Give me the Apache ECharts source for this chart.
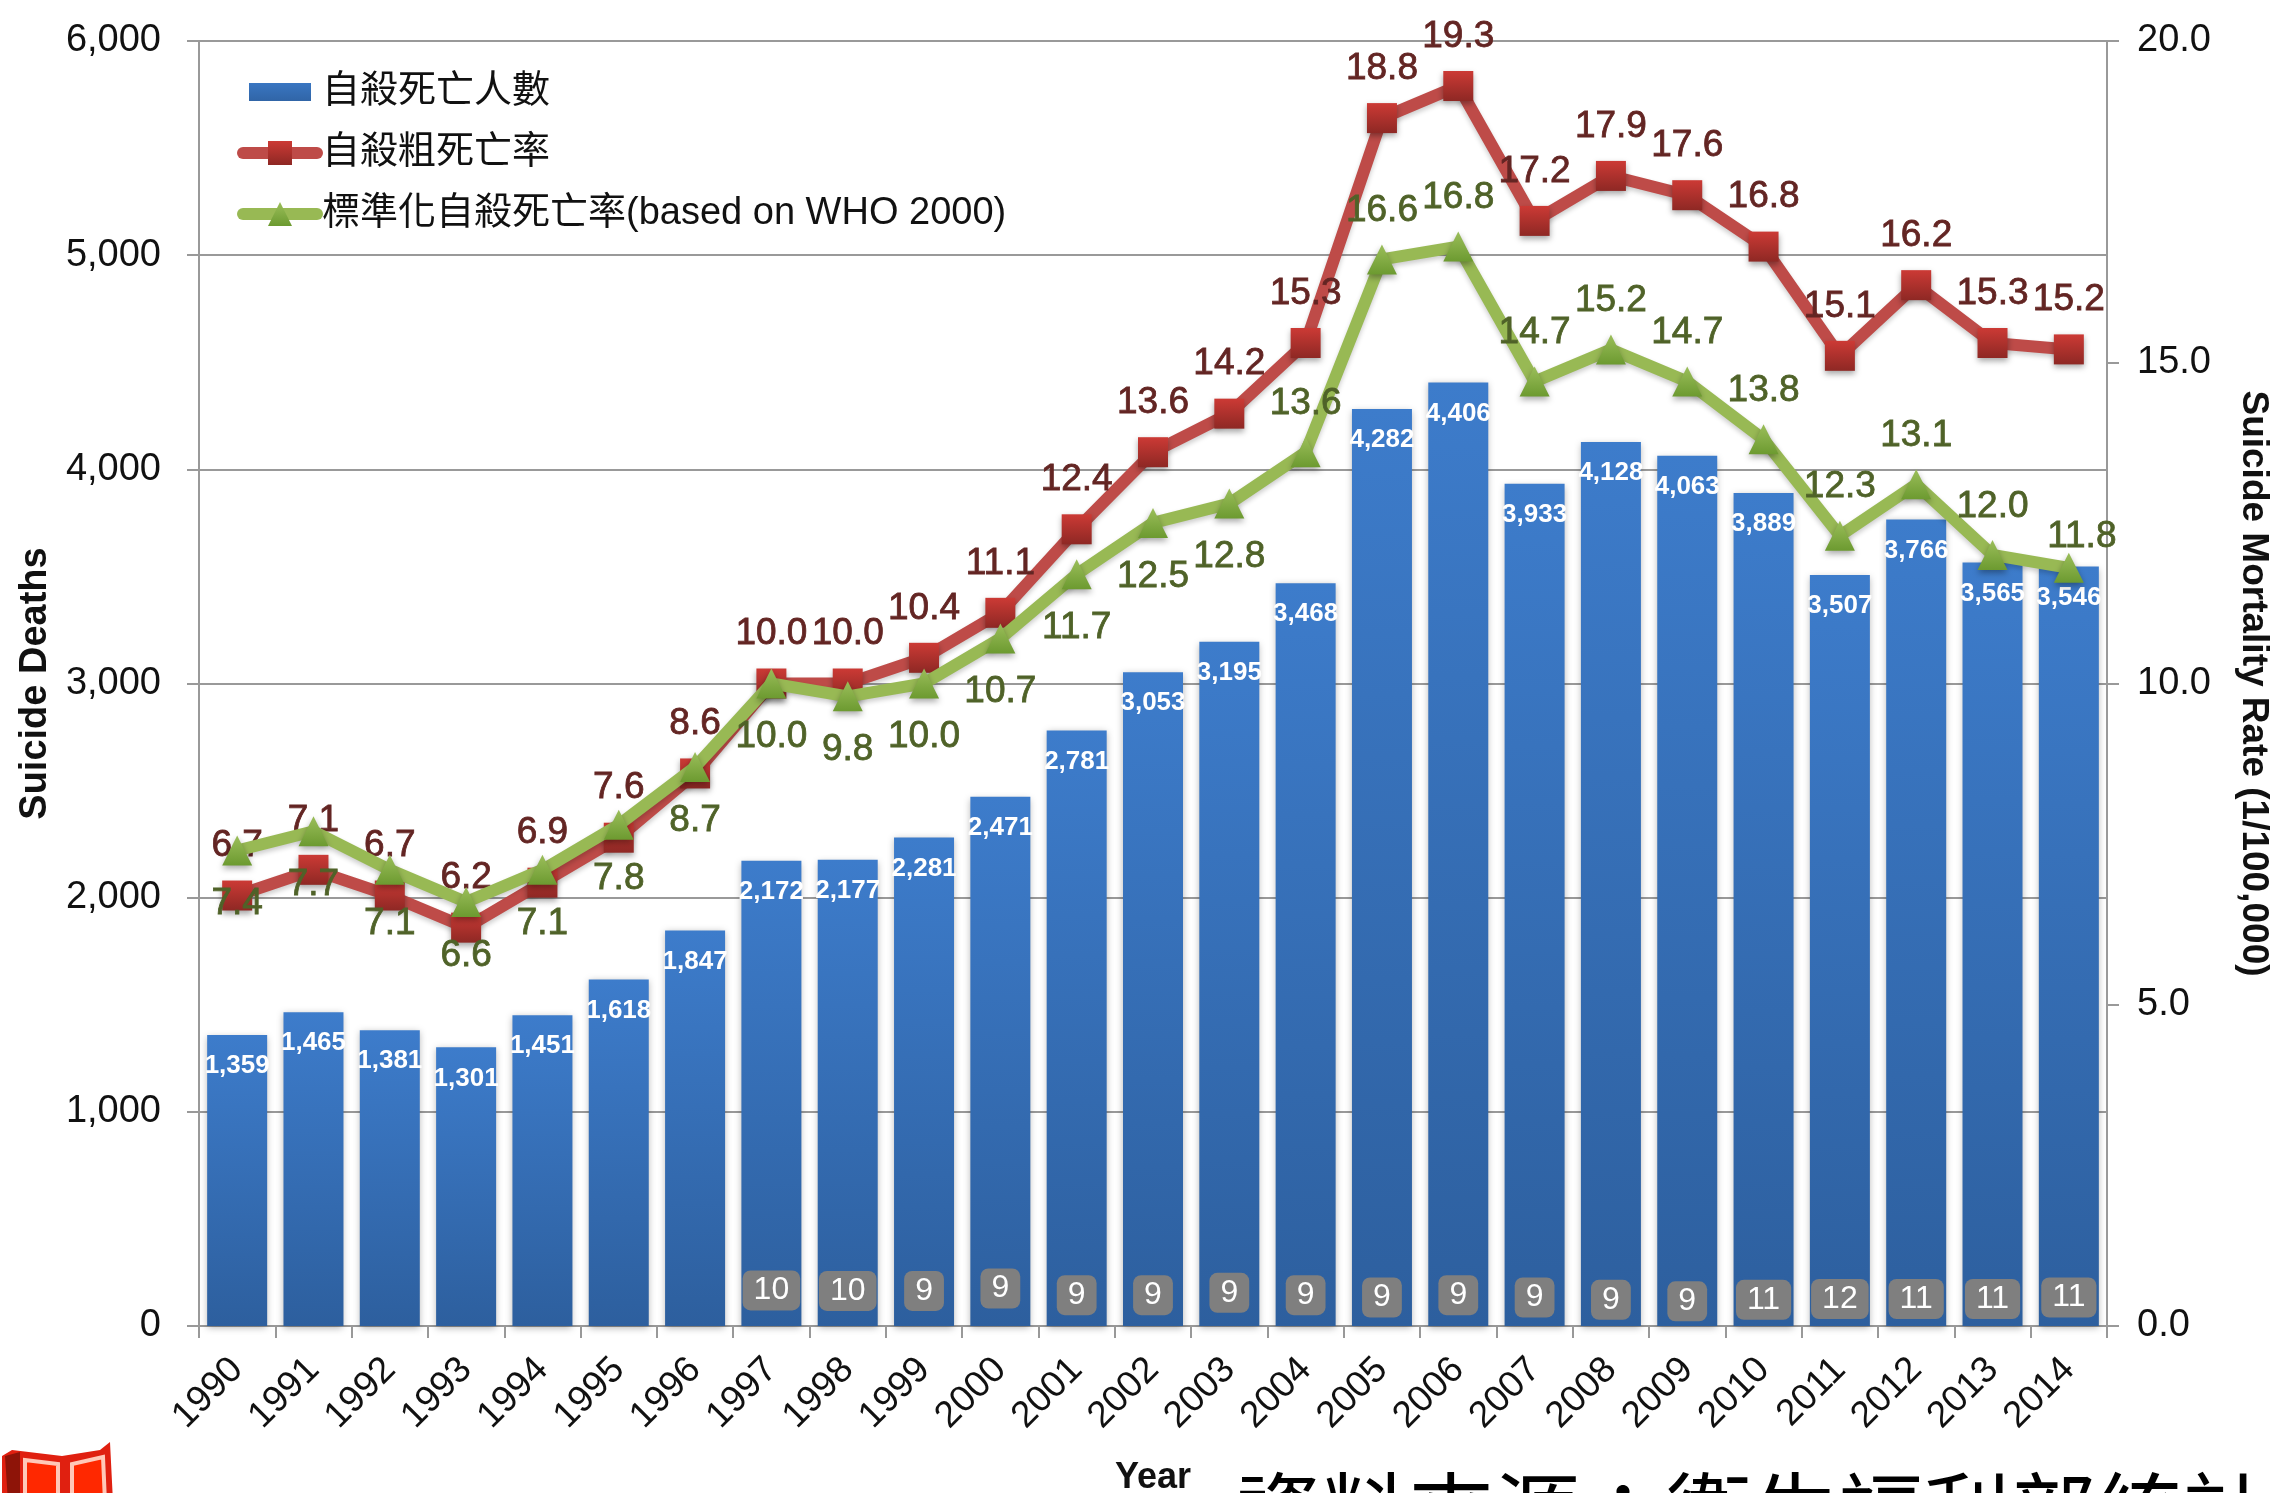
<!DOCTYPE html>
<html>
<head>
<meta charset="utf-8">
<script src="https://cdn.jsdelivr.net/npm/echarts@6/dist/echarts.min.js"></script>
<style>html,body{margin:0;padding:0;background:#fff;overflow:hidden}#c{width:2278px;height:1493px}</style>
</head>
<body>
<div id="c"></div>
<script>
const years = ['1990','1991','1992','1993','1994','1995','1996','1997','1998','1999','2000','2001','2002','2003','2004','2005','2006','2007','2008','2009','2010','2011','2012','2013','2014'];
const deaths = [1359,1465,1381,1301,1451,1618,1847,2172,2177,2281,2471,2781,3053,3195,3468,4282,4406,3933,4128,4063,3889,3507,3766,3565,3546];
const crudeRate = [6.7,7.1,6.7,6.2,6.9,7.6,8.6,10.0,10.0,10.4,11.1,12.4,13.6,14.2,15.3,18.8,19.3,17.2,17.9,17.6,16.8,15.1,16.2,15.3,15.2];
const stdRate = [7.4,7.7,7.1,6.6,7.1,7.8,8.7,10.0,9.8,10.0,10.7,11.7,12.5,12.8,13.6,16.6,16.8,14.7,15.2,14.7,13.8,12.3,13.1,12.0,11.8];
const rank = [null,null,null,null,null,null,null,10,10,9,9,9,9,9,9,9,9,9,9,9,11,12,11,11,11];
const rankBadgeHeight = [null,null,null,null,null,null,null,166,164,164,175,144,144,155,144,133,144,133,122,115,122,126,126,126,133];
const leftTicks = [0,1000,2000,3000,4000,5000,6000];
const names = ['自殺死亡人數','自殺粗死亡率','標準化自殺死亡率(based on WHO 2000)'];

const FONT = '"Liberation Sans","Noto Sans CJK TC",sans-serif';
const grad = (a,b)=>new echarts.graphic.LinearGradient(0,0,0,1,[{offset:0,color:a},{offset:1,color:b}]);
const chart = echarts.init(document.getElementById('c'),null,{renderer:'canvas'});
const stdLabelAbove = i => years[i] >= '2004';

chart.setOption({
  animation:false,
  backgroundColor:'#fff',
  textStyle:{fontFamily:FONT},
  grid:{left:199,right:171,top:41,bottom:167,containLabel:false,outerBoundsMode:'none'},
  legend:{
    left:232,top:68,orient:'vertical',itemWidth:74,itemHeight:30,itemGap:23,selectedMode:false,
    textStyle:{fontSize:38,lineHeight:38,color:'#111',fontFamily:FONT},
    data:[
      {name:names[0],icon:'path://M0,0h.01v.01zM6,6H68V24H6ZM74,30h-.01v-.01z',itemStyle:{color:grad('#3D7CCB','#2D5F9E')}},
      {name:names[1],lineStyle:{width:12,color:'#BE4B48',cap:'round'}},
      {name:names[2],lineStyle:{width:12,color:'#98B954',cap:'round'}}
    ]
  },
  xAxis:{
    type:'category',data:years,boundaryGap:true,
    name:'Year',nameLocation:'middle',nameGap:134,
    nameTextStyle:{fontSize:36,fontWeight:'bold',color:'#111',fontFamily:FONT},
    axisLine:{lineStyle:{color:'#999',width:2}},
    axisTick:{show:true,length:12,interval:0,alignWithLabel:false,lineStyle:{color:'#999',width:2}},
    axisLabel:{interval:0,rotate:45,fontSize:37,color:'#111',margin:38,fontFamily:FONT}
  },
  yAxis:[
    {type:'value',min:leftTicks[0],max:leftTicks[leftTicks.length-1],interval:1000,
     name:'Suicide Deaths',nameLocation:'middle',nameGap:134,nameRotate:90,
     nameTextStyle:{fontSize:38,fontWeight:'bold',color:'#111',fontFamily:FONT},
     axisLine:{show:true,lineStyle:{color:'#999',width:2}},
     axisTick:{show:true,length:12,lineStyle:{color:'#999',width:2}},
     splitLine:{show:true,lineStyle:{color:'#999',width:2}},
     axisLabel:{fontSize:38,color:'#111',margin:38,fontFamily:FONT,formatter:v=>v.toLocaleString('en-US')}},
    {type:'value',min:0,max:20,interval:5,position:'right',
     name:'Suicide Mortality Rate (1/100,000)',nameLocation:'middle',nameGap:128,nameRotate:-90,
     nameTextStyle:{fontSize:37,fontWeight:'bold',color:'#111',fontFamily:FONT},
     axisLine:{show:true,lineStyle:{color:'#999',width:2}},
     axisTick:{show:true,length:12,lineStyle:{color:'#999',width:2}},
     splitLine:{show:false},
     axisLabel:{fontSize:38,color:'#111',margin:30,fontFamily:FONT,formatter:v=>v.toFixed(1)}}
  ],
  series:[
    {name:names[0],type:'bar',data:deaths,barWidth:60,yAxisIndex:0,z:2,
     itemStyle:{color:grad('#3D7CCB','#2D5F9E'),shadowColor:'rgba(0,0,0,0.3)',shadowBlur:7,shadowOffsetY:2},
     label:{show:true,position:'insideTop',distance:18,fontSize:26,fontWeight:'bold',color:'#fff',
            fontFamily:FONT,textBorderWidth:0,formatter:p=>p.value.toLocaleString('en-US')}},
    {name:names[1],type:'line',data:crudeRate,yAxisIndex:1,z:4,symbol:'rect',symbolSize:30,
     lineStyle:{color:'#BE4B48',width:12,join:'miter',shadowColor:'rgba(0,0,0,0.2)',shadowBlur:5,shadowOffsetY:3},
     itemStyle:{color:grad('#CC3A35','#8E2824'),shadowColor:'rgba(0,0,0,0.35)',shadowBlur:6,shadowOffsetY:3},
     label:{show:true,position:'top',distance:16,fontSize:37,color:'#632523',fontFamily:FONT,textBorderColor:'#632523',textBorderWidth:0.8,
            formatter:p=>p.value.toFixed(1)}},
    {name:names[2],type:'line',data:stdRate.map((v,i)=>({
        value:v,
        label:{position:stdLabelAbove(i)?'top':'bottom',
               distance:stdLabelAbove(i)?15:20,
               offset:years[i]==='2014'?[13,17]:[0,0]}
      })),
     yAxisIndex:1,z:5,symbol:'triangle',symbolSize:30,
     lineStyle:{color:'#98B954',width:12,join:'miter',shadowColor:'rgba(0,0,0,0.2)',shadowBlur:5,shadowOffsetY:3},
     itemStyle:{color:grad('#9BBE5A','#6C9A30'),shadowColor:'rgba(0,0,0,0.35)',shadowBlur:6,shadowOffsetY:3},
     label:{show:true,fontSize:37,color:'#4F6228',fontFamily:FONT,textBorderColor:'#4F6228',textBorderWidth:0.8,
            formatter:p=>p.value.toFixed(1)}},
    {name:'rank',type:'scatter',yAxisIndex:0,z:6,symbolSize:1,silent:true,
     itemStyle:{color:'rgba(0,0,0,0)',opacity:1},
     data:rankBadgeHeight.map(v=>v===null?'-':v),
     label:{show:true,position:'inside',opacity:1,fontSize:32,color:'#fff',fontFamily:FONT,
            backgroundColor:'#7F7F7F',borderRadius:8,padding:[6,11,4,11],lineHeight:30,
            formatter:p=>String(rank[p.dataIndex])}}
  ],
  graphic:[
    {type:'text',z:10,silent:true,left:1236,top:1469,
     style:{text:'資料來源：衛生福利部統計處',font:'86px "Noto Sans CJK TC"',fill:'#000'}},
    {type:'group',left:2,top:1442,silent:true,children:[
      {type:'polygon',shape:{points:[[2,14],[12,8],[62,14],[100,8],[110,0],[113,60],[2,60]]},style:{fill:'#E02010'}},
      {type:'polygon',shape:{points:[[5,14],[20,10],[20,60],[8,60]]},style:{fill:'#8E1408'}},
      {type:'polyline',shape:{points:[[25,60],[25,18],[58,22],[58,60]]},style:{stroke:'#FFC8B8',fill:'#FF2800',lineWidth:4}},
      {type:'polyline',shape:{points:[[72,60],[72,22],[103,15],[105,60]]},style:{stroke:'#FFC8B8',fill:'#FF2800',lineWidth:4}}
    ]}
  ]
});
</script>
</body>
</html>
